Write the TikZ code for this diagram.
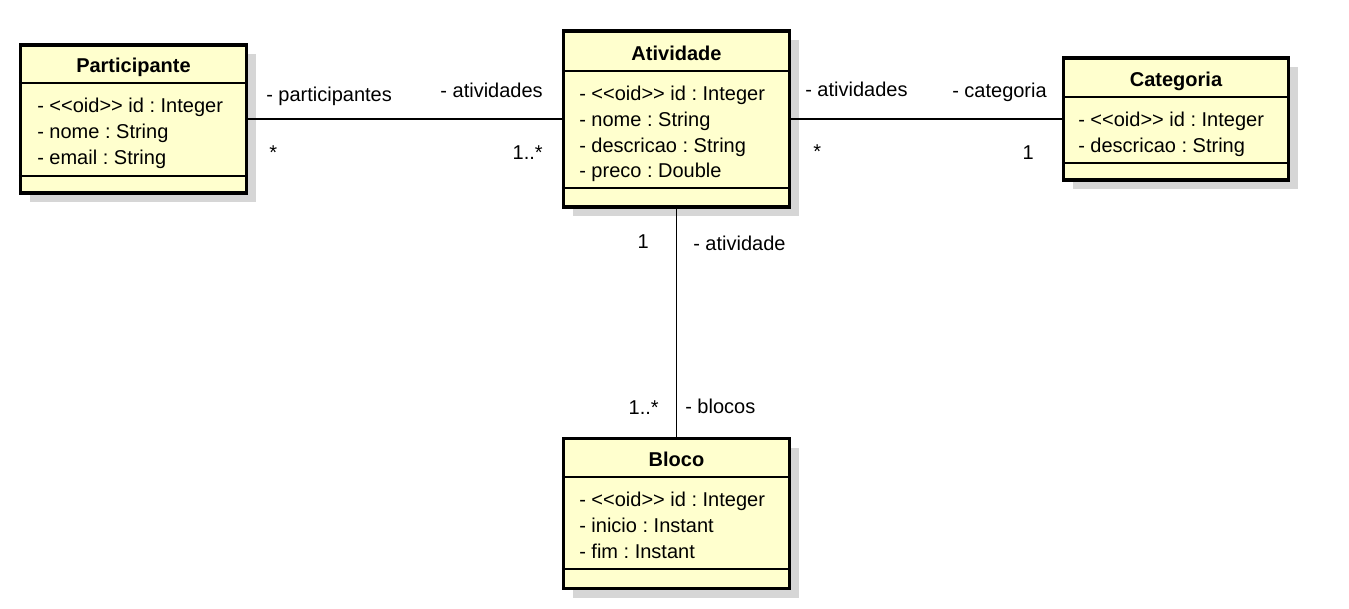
\documentclass[tikz,border=0pt]{standalone}
\usepackage{fontspec}
\setmainfont{Liberation Sans}
\usepackage{tikz}
\usetikzlibrary{positioning}
\usetikzlibrary{shadows}
\frenchspacing
\definecolor{classfill}{RGB}{255,255,206}
\definecolor{shadowgray}{RGB}{214,214,214}
\newcommand{\px}{0.75pt}
\newcommand{\oidtag}{<\kern0pt<oid>\kern0pt>}
\tikzset{
  classbox/.style={draw, line width=2.4pt, fill=classfill, inner sep=0pt,
    drop shadow={shadow xshift=6.75pt, shadow yshift=-6.75pt, fill=shadowgray, opacity=1}},
  sepline/.style={line width=1.1pt},
  assoc/.style={line width=1.1pt},
  umltext/.style={inner sep=0pt, font=\fontsize{15}{18}\selectfont},
  classtitle/.style={umltext, anchor=base, font=\fontsize{15}{18}\selectfont\bfseries},
  attr/.style={umltext, anchor=base west},
  rolewest/.style={umltext, anchor=base west},
  roleeast/.style={umltext, anchor=base east},
}
\begin{document}
\begin{tikzpicture}[x=0.75pt, y=-0.75pt]
\path[fill=white, use as bounding box] (0,0) rectangle (1349,609);

% classes
\node[classbox, minimum width=226*\px, minimum height=148*\px] (participante) at (133.5,119) {};
\node[classbox, minimum width=226*\px, minimum height=176*\px] (atividade) at (676.5,119) {};
\node[classbox, minimum width=225*\px, minimum height=122*\px] (categoria) at (1176,119) {};
\node[classbox, minimum width=226*\px, minimum height=150*\px] (bloco) at (676.5,513.5) {};

% Participante
\draw[sepline] (participante.west |- 0,83) -- (participante.east |- 0,83);
\draw[sepline] (participante.west |- 0,176) -- (participante.east |- 0,176);
\node[classtitle] (participante-title) at (133.5,72.5) {Participante};
\foreach \a [count=\i] in {- \oidtag{} id : Integer,- nome : String,- email : String}
  \node[attr] (participante-attr-\i) at (37,{112.5+(\i-1)*25.8}) {\a};

% Atividade
\draw[sepline] (atividade.west |- 0,71) -- (atividade.east |- 0,71);
\draw[sepline] (atividade.west |- 0,188) -- (atividade.east |- 0,188);
\node[classtitle] (atividade-title) at (676.5,60.5) {Atividade};
\foreach \a [count=\i] in {- \oidtag{} id : Integer,- nome : String,- descricao : String,- preco : Double}
  \node[attr] (atividade-attr-\i) at (579,{100.5+(\i-1)*25.8}) {\a};

% Categoria
\draw[sepline] (categoria.west |- 0,97) -- (categoria.east |- 0,97);
\draw[sepline] (categoria.west |- 0,163) -- (categoria.east |- 0,163);
\node[classtitle] (categoria-title) at (1176,86.5) {Categoria};
\foreach \a [count=\i] in {- \oidtag{} id : Integer,- descricao : String}
  \node[attr] (categoria-attr-\i) at (1078,{126.5+(\i-1)*25.8}) {\a};

% Bloco
\draw[sepline] (bloco.west |- 0,477) -- (bloco.east |- 0,477);
\draw[sepline] (bloco.west |- 0,569) -- (bloco.east |- 0,569);
\node[classtitle] (bloco-title) at (676.5,466.5) {Bloco};
\foreach \a [count=\i] in {- \oidtag{} id : Integer,- inicio : Instant,- fim : Instant}
  \node[attr] (bloco-attr-\i) at (579,{506.5+(\i-1)*25.8}) {\a};

% associations
\draw[assoc] (participante) -- (atividade);
\draw[assoc] (atividade) -- (categoria);
\draw[assoc] (atividade) -- (bloco);

% roles and multiplicities
\node[rolewest] (role-participantes) at (266,102) {- participantes};
\node[rolewest] (mult-participantes) at (269,160) {*};
\node[roleeast] (role-atividades-p) at (543,98) {- atividades};
\node[roleeast] (mult-atividades-p) at (543,160) {1..*};
\node[rolewest] (role-atividades-c) at (805,97) {- atividades};
\node[rolewest] (mult-atividades-c) at (813,159) {*};
\node[roleeast] (role-categoria) at (1047,98) {- categoria};
\node[roleeast] (mult-categoria) at (1034,160) {1};
\node[roleeast] (mult-atividade) at (649,249) {1};
\node[rolewest] (role-atividade) at (693,251) {- atividade};
\node[roleeast] (mult-blocos) at (659,415) {1..*};
\node[rolewest] (role-blocos) at (685,413) {- blocos};
\end{tikzpicture}
\end{document}
